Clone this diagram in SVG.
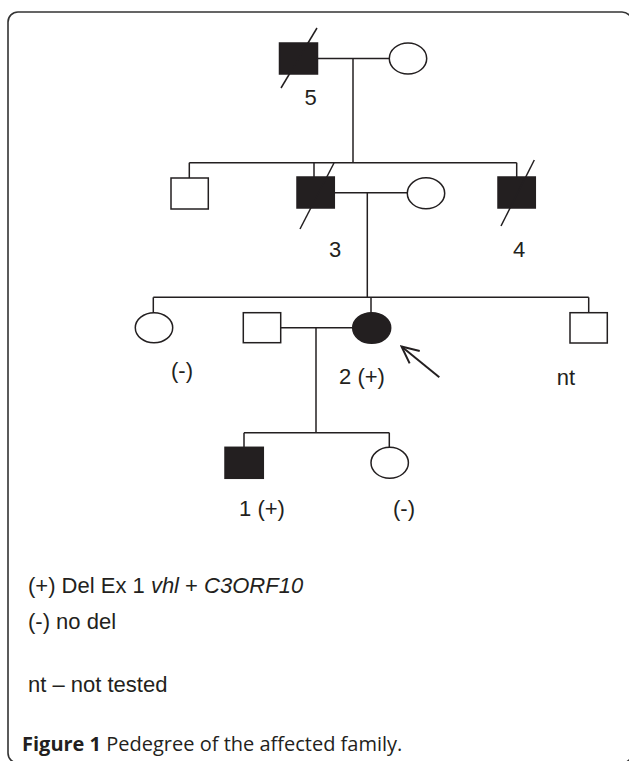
<svg xmlns="http://www.w3.org/2000/svg" width="629" height="761" viewBox="0 0 629 761">
  <style>
    .ln { stroke: #231f20; stroke-width: 1.5; fill: none; }
    .open { stroke: #231f20; stroke-width: 1.5; fill: #ffffff; }
    .aff { stroke: #231f20; stroke-width: 1.5; fill: #231f20; }
    .lbl { font-family: "Liberation Sans", Arial, sans-serif; font-size: 22px; fill: #231f20; text-anchor: middle; }
    .leg { font-family: "Liberation Sans", Arial, sans-serif; font-size: 22px; fill: #231f20; }
    .cap { font-family: "Open Sans", "Liberation Sans", sans-serif; font-size: 20px; fill: #231f20; }
  </style>
  <defs>
    <marker id="openArrow" markerUnits="userSpaceOnUse" viewBox="-20 -10 22 20" refX="0" refY="0" markerWidth="22" markerHeight="20" orient="auto">
      <path d="M -17,-8 L 0,0 L -17,8" fill="none" stroke="#231f20" stroke-width="2"/>
    </marker>
  </defs>
  <rect x="0" y="0" width="629" height="761" fill="#ffffff"/>
  <rect x="8" y="12" width="624" height="751" rx="10" ry="10" fill="none" stroke="#333333" stroke-width="1.6"/>

  <g id="connectors">
    <line class="ln" x1="317.5" y1="58.5" x2="389.3" y2="58.5"/>
    <line class="ln" x1="353" y1="58.5" x2="353" y2="162.7"/>
    <line class="ln" x1="189.3" y1="162.7" x2="516.7" y2="162.7"/>
    <line class="ln" x1="189.3" y1="162.7" x2="189.3" y2="178"/>
    <line class="ln" x1="314" y1="162.7" x2="314" y2="177"/>
    <line class="ln" x1="516.7" y1="162.7" x2="516.7" y2="177"/>
    <line class="ln" x1="334" y1="192.7" x2="407.3" y2="192.7"/>
    <line class="ln" x1="367.3" y1="192.7" x2="367.3" y2="297.3"/>
    <line class="ln" x1="153.3" y1="297.3" x2="588.7" y2="297.3"/>
    <line class="ln" x1="153.3" y1="297.3" x2="153.3" y2="312.7"/>
    <line class="ln" x1="371" y1="297.3" x2="371" y2="312.7"/>
    <line class="ln" x1="588.7" y1="297.3" x2="588.7" y2="312.7"/>
    <line class="ln" x1="280.7" y1="327.7" x2="352.7" y2="327.7"/>
    <line class="ln" x1="316" y1="327.7" x2="316" y2="432.7"/>
    <line class="ln" x1="244" y1="432.7" x2="389.3" y2="432.7"/>
    <line class="ln" x1="244" y1="432.7" x2="244" y2="447.3"/>
    <line class="ln" x1="389.3" y1="432.7" x2="389.3" y2="447.3"/>
    <line x1="439.3" y1="377.3" x2="401.5" y2="346.5" stroke="#231f20" stroke-width="2" marker-end="url(#openArrow)"/>
  </g>

  <g id="n5">
    <rect class="aff" x="279.5" y="43" width="38" height="31"/>
    <line class="ln" x1="281" y1="88" x2="317" y2="28"/>
    <text class="lbl" x="310.5" y="105">5</text>
  </g>
  <g id="n5-spouse">
    <ellipse class="open" cx="408" cy="58.5" rx="18.7" ry="15.5"/>
  </g>

  <g id="g2-brother">
    <rect class="open" x="171" y="178" width="37.3" height="31"/>
  </g>
  <g id="n3">
    <rect class="aff" x="297" y="177" width="37.3" height="31"/>
    <line class="ln" x1="300" y1="229" x2="334" y2="163"/>
    <text class="lbl" x="335" y="257">3</text>
  </g>
  <g id="n3-spouse">
    <ellipse class="open" cx="426" cy="193.3" rx="18.7" ry="15.5"/>
  </g>
  <g id="n4">
    <rect class="aff" x="498" y="177" width="37.3" height="31"/>
    <line class="ln" x1="501" y1="226" x2="534.3" y2="160"/>
    <text class="lbl" x="519" y="257">4</text>
  </g>

  <g id="g3-sister">
    <ellipse class="open" cx="154" cy="327.7" rx="18.7" ry="15"/>
    <text class="lbl" x="182" y="377.5">(-)</text>
  </g>
  <g id="n2-spouse">
    <rect class="open" x="243.3" y="312.7" width="37.4" height="30"/>
  </g>
  <g id="n2">
    <ellipse class="aff" cx="371.7" cy="328" rx="19" ry="15.3"/>
    <text class="lbl" x="362" y="384">2 (+)</text>
  </g>
  <g id="g3-brother">
    <rect class="open" x="570" y="312.7" width="37.3" height="30.3"/>
    <text class="lbl" x="566" y="385">nt</text>
  </g>

  <g id="n1">
    <rect class="aff" x="225" y="447.3" width="38.3" height="31"/>
    <text class="lbl" x="262" y="516">1 (+)</text>
  </g>
  <g id="g4-sister">
    <ellipse class="open" cx="389.7" cy="462.8" rx="18.7" ry="15.5"/>
    <text class="lbl" x="404" y="516">(-)</text>
  </g>

  <g id="legend">
    <text class="leg" x="28" y="593">(+) Del Ex 1 <tspan font-style="italic">vhl</tspan> + <tspan font-style="italic">C3ORF10</tspan></text>
    <text class="leg" x="28" y="629">(-) no del</text>
    <text class="leg" x="28" y="692">nt – not tested</text>
    <text class="cap" x="22" y="751"><tspan font-weight="bold">Figure 1</tspan> Pedegree of the affected family.</text>
  </g>
</svg>
